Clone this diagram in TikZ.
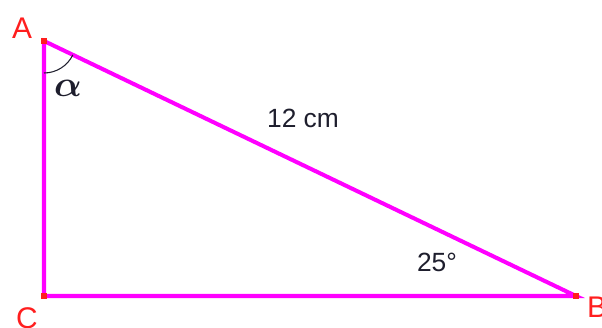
\documentclass[tikz,border=0pt]{standalone}
\usepackage{amsmath}
\usepackage{fontspec}
\setmainfont{Liberation Sans}
\usetikzlibrary{positioning}

\definecolor{tricol}{RGB}{255,0,255}
\definecolor{ptcol}{RGB}{255,30,30}
\definecolor{txtcol}{RGB}{30,30,45}

\begin{document}
\begin{tikzpicture}[
  tri/.style={draw=tricol, line width=2.3pt, line join=miter},
  ptlabel/.style={text=ptcol, font=\fontsize{17}{17}\selectfont, inner sep=0pt},
  dot/.style={fill=ptcol, minimum size=3.5pt, inner sep=0pt},
  meas/.style={text=txtcol, font=\fontsize{15}{15}\selectfont, inner sep=0pt},
  anglearc/.style={draw=txtcol, line width=0.6pt}
]
\useasboundingbox (0,0) rectangle (12.04,6.56);

\coordinate (A) at (0.88,5.74);
\coordinate (C) at (0.88,0.64);
\coordinate (B) at (11.52,0.64);

\draw[tri] (A) -- (B) -- (C) -- cycle;
\draw[anglearc] ([shift={(-90:0.64)}]A) arc[start angle=-90, end angle=-25.6, radius=0.64];

\node[dot] (dA) at (A) {};
\node[dot] (dC) at (C) {};
\node[dot] (dB) at (B) {};

% vertex letters (C and B run off the edge as in the original)
\node[ptlabel] (lA) at (0.44,6.0) {A};
\node[ptlabel] (lC) at (0.54,0.2) {C};
\node[ptlabel] (lB) at (11.94,0.42) {B};

\node[meas] (hyp) at (6.06,4.2) {12 cm};
\node[meas] (angB) at (8.74,1.32) {25°};
\node[text=txtcol, font=\fontsize{22}{22}\selectfont, inner sep=0pt] (alpha) at (1.36,4.8) {$\boldsymbol{\alpha}$};

\end{tikzpicture}
\end{document}
